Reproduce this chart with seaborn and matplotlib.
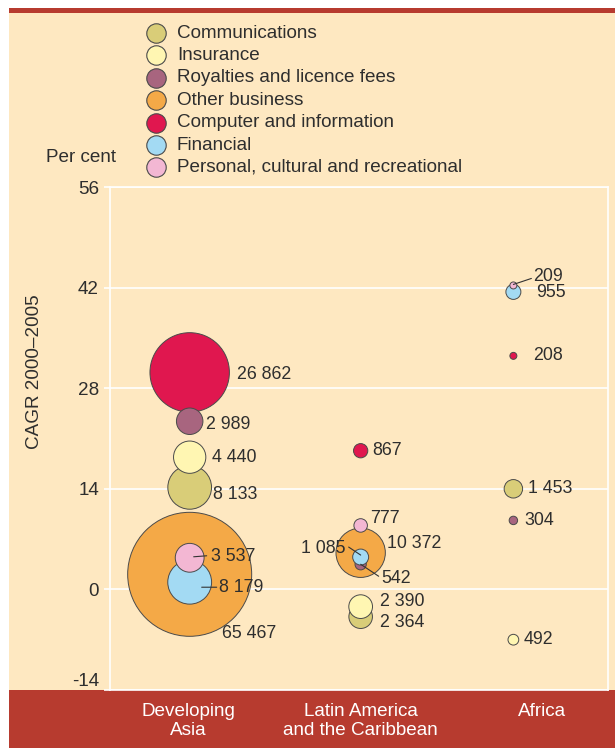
import numpy as np
import pandas as pd
import matplotlib
matplotlib.use("Agg")
import matplotlib.pyplot as plt
import matplotlib.transforms as mtransforms
from matplotlib.lines import Line2D
from matplotlib.patches import Rectangle
import seaborn as sns

# ---- data -------------------------------------------------------------
categories = [
    "Communications",
    "Insurance",
    "Royalties and licence fees",
    "Other business",
    "Computer and information",
    "Financial",
    "Personal, cultural and recreational",
]
category_colors = ["#D9CD78", "#FFF6B2", "#A8657F", "#F4A947",
                   "#E0174F", "#A3DAF3", "#F3B7D3"]

regions = ["Developing\nAsia", "Latin America\nand the Caribbean", "Africa"]

# export value (US$ million, 2005) and compound annual growth 2000-2005 (%)
asia_value = [8133, 4440, 2989, 65467, 26862, 8179, 3537]
asia_cagr = [14.2, 18.4, 23.4, 2.1, 30.2, 1.0, 4.4]
latam_value = [2364, 2390, 542, 10372, 867, 1085, 777]
latam_cagr = [-3.8, -2.4, 3.5, 5.1, 19.3, 4.5, 8.9]
africa_value = [1453, 492, 304, np.nan, 208, 955, 209]
africa_cagr = [14.0, -7.0, 9.6, np.nan, 32.5, 41.4, 42.3]

y_ticks = [-14, 0, 14, 28, 42, 56]

# ---- layout / style ---------------------------------------------------
W, H, DPI = 615, 748, 100
BG = "#FEE8C1"
RED = "#B73B2F"
INK = "#2E2E2E"
FS = 13.6      # legend, axis and category text
FS_NUM = 12.8  # bubble value labels

bubble_x = [0.48, 1.51, 2.43]      # bubble column per region
region_label_x = [0.47, 1.51, 2.6]  # category label position per region

# label offsets in pixels from bubble centre (dx right, dy down), text alignment
label_offsets = {
    0: [(23, 7, "left"), (22, 0, "left"), (16, 3, "left"), (32, 59, "left"),
        (47, 2, "left"), (29, 5, "left"), (21, -1, "left")],
    1: [(19, 6, "left"), (19, -5, "left"), (21, 14, "left"), (26, -9, "left"),
        (12, 0, "left"), (-15, -9, "right"), (9, -7, "left")],
    2: [(15, 0, "left"), (10, 0, "left"), (11, 0, "left"), None,
        (20, 0, "left"), (23, 1, "left"), (20, -9, "left")],
}
# leader lines: (region, category) -> (x0, y0, x1, y1) pixel offsets from centre
leaders = {
    (0, 6): (4, -1, 17, -2),
    (0, 5): (12, 5, 27, 5),
    (1, 5): (0, -2, -12, -10),
    (1, 2): (0, 0, 18, 12),
    (2, 6): (0, -1, 18, -7),
}

sns.set_theme(style="white")
plt.rcParams["font.family"] = ["Liberation Sans", "DejaVu Sans"]

fig = plt.figure(figsize=(W / DPI, H / DPI), dpi=DPI)
fig.patch.set_facecolor("white")


def px_rect(x0, y0, x1, y1, color):
    fig.add_artist(Rectangle((x0 / W, 1 - y1 / H), (x1 - x0) / W, (y1 - y0) / H,
                             transform=fig.transFigure, color=color, lw=0, zorder=0))


px_rect(9, 13, W, 690, BG)
px_rect(9, 8, W, 13, RED)
px_rect(9, 690, W, H, RED)

ax = fig.add_axes([110 / W, 1 - 690 / H, 498 / W, 503 / H])
ax.set_facecolor(BG)

# ---- long table -------------------------------------------------------
rows = []
for r, (vals, growth) in enumerate([(asia_value, asia_cagr),
                                    (latam_value, latam_cagr),
                                    (africa_value, africa_cagr)]):
    for c, (v, g) in enumerate(zip(vals, growth)):
        if np.isnan(v):
            continue
        rows.append({"region": r, "cat": c, "category": categories[c],
                     "x": bubble_x[r], "cagr": g, "value": v})
df = pd.DataFrame(rows)
# larger bubbles go underneath smaller ones
df["layer"] = -np.round(df["value"], -3)
df = df.sort_values("layer", kind="stable").reset_index(drop=True)

vmax = max(asia_value)
smax = (124 * 72 / DPI) ** 2  # marker area (pt^2) of the largest bubble

sns.scatterplot(data=df, x="x", y="cagr", hue="category",
                palette=dict(zip(categories, category_colors)),
                size="value", sizes=(0, smax), size_norm=(0, vmax),
                edgecolor="#4A4A4A", linewidth=0.7, alpha=1,
                legend=False, ax=ax, zorder=3)

# ---- value labels -----------------------------------------------------
for _, row in df.iterrows():
    r, c = int(row["region"]), int(row["cat"])
    dx, dy, ha = label_offsets[r][c]
    txt = f"{int(row['value']):,}".replace(",", " ")
    ax.annotate(txt, xy=(row["x"], row["cagr"]), xytext=(dx * 72 / DPI, -dy * 72 / DPI),
                textcoords="offset points", ha=ha, va="center",
                fontsize=FS_NUM, color=INK, zorder=5)
    if (r, c) in leaders:
        x0, y0, x1, y1 = leaders[(r, c)]
        t0 = mtransforms.offset_copy(ax.transData, fig=fig, x=x0, y=-y0, units="dots")
        t1 = mtransforms.offset_copy(ax.transData, fig=fig, x=x1, y=-y1, units="dots")
        ax.annotate("", xy=(row["x"], row["cagr"]), xycoords=t0,
                    xytext=(row["x"], row["cagr"]), textcoords=t1,
                    arrowprops=dict(arrowstyle="-", color="#333333", lw=0.8,
                                    shrinkA=0, shrinkB=0), zorder=6)

# ---- axes -------------------------------------------------------------
ax.set_xlim(0, 3)
ax.set_ylim(-14, 56)
ax.set_yticks(y_ticks)
ax.set_yticklabels([str(t) for t in y_ticks])
ax.set_xticks(region_label_x)
ax.set_xticklabels(regions)
ax.set_xlabel("")
ax.set_ylabel("")
ax.grid(axis="y", color="white", lw=1.2, zorder=1)
ax.grid(axis="x", visible=False)
ax.set_axisbelow(True)
for s in ax.spines.values():
    s.set_color("white")
    s.set_linewidth(1.2)
ax.tick_params(axis="y", left=True, length=4, width=1.2, color="white",
               labelsize=FS, labelcolor=INK, pad=4)
ax.tick_params(axis="x", bottom=False, labelsize=FS, labelcolor="white", pad=3)

# keep the bottom tick label clear of the red band
bottom_label = ax.get_yticklabels()[0]
bottom_label.set_transform(bottom_label.get_transform() +
                           mtransforms.ScaledTranslation(0, 10 / DPI, fig.dpi_scale_trans))

fig.text(116 / W, 1 - 158 / H, "Per cent", ha="right", va="center",
         fontsize=FS, color=INK)
fig.text(35 / W, 1 - 372 / H, "CAGR 2000\u20132005", rotation=90,
         ha="center", va="center", fontsize=FS, color=INK)

# ---- legend -----------------------------------------------------------
for i, (name, col) in enumerate(zip(categories, category_colors)):
    yy = 1 - (33 + 22.4 * i) / H
    fig.add_artist(Line2D([156 / W], [yy], transform=fig.transFigure,
                          marker="o", markersize=14, markerfacecolor=col,
                          markeredgecolor="#4A4A4A", markeredgewidth=0.8,
                          linestyle="none"))
    fig.text(177 / W, yy, name, ha="left", va="center", fontsize=FS, color=INK)

fig.savefig("out.png", dpi=DPI, facecolor="white")
